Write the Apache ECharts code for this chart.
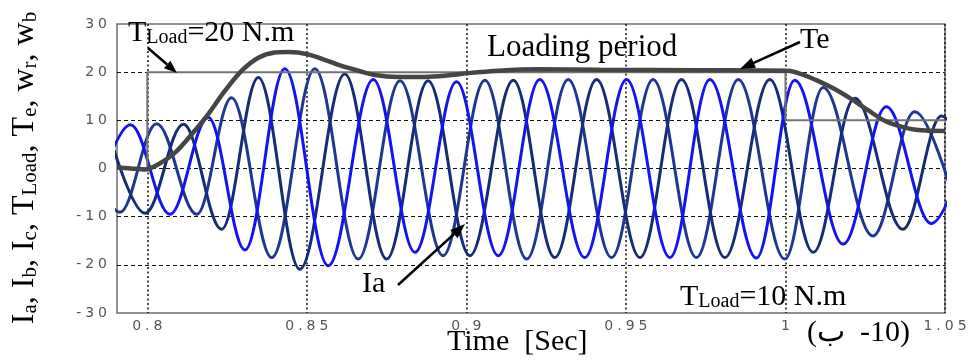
<!DOCTYPE html>
<html>
<head>
<meta charset="utf-8">
<script src="https://cdn.jsdelivr.net/npm/echarts@6/dist/echarts.min.js"></script>
<style>
html, body { margin: 0; padding: 0; background: #fff; }
#chart { width: 971px; height: 362px; }
</style>
</head>
<body>
<div id="chart"></div>
<script>
// peaks and troughs of the phase currents [time (s), value]
const ia = [
  [0.7822, -9.3], [0.7947, 9.1], [0.8071, -9.5], [0.8191, 10.6], [0.8306, -16.9],
  [0.8431, 20.7], [0.8567, -20.2], [0.8708, 18.5], [0.8839, -17.4], [0.8969, 18.0],
  [0.9100, -18.1], [0.9230, 18.5], [0.9371, -18.5], [0.9502, 18.5], [0.9638, -18.5],
  [0.9763, 18.5], [0.9909, -18.6], [1.0029, 18.3], [1.0181, -15.7], [1.0316, 12.8],
  [1.0457, -11.4], [1.0595, 10.0]
];
const ib = [
  [0.7790, 9.2], [0.7914, -9.1], [0.8029, 9.3], [0.8155, -9.5], [0.8264, 14.7],
  [0.8390, -18.5], [0.8525, 20.7], [0.8661, -18.8], [0.8792, 18.2], [0.8927, -18.1],
  [0.9058, 18.3], [0.9189, -18.8], [0.9319, 18.5], [0.9455, -18.5], [0.9585, 18.5],
  [0.9721, -18.5], [0.9852, 18.5], [0.9998, -18.8], [1.0118, 16.8], [1.0274, -14.0],
  [1.0405, 11.8], [1.0545, -10.5]
];
const ic = [
  [0.7871, 9.2], [0.7993, -9.3], [0.8113, 9.2], [0.8233, -12.6], [0.8348, 18.9],
  [0.8478, -20.9], [0.8619, 19.6], [0.8750, -18.8], [0.8880, 18.2], [0.9011, -18.1],
  [0.9147, 18.3], [0.9277, -18.5], [0.9408, 18.5], [0.9544, -18.5], [0.9674, 18.5],
  [0.9810, -18.5], [0.9951, 18.5], [1.0087, -17.4], [1.0217, 14.6], [1.0368, -12.6],
  [1.0489, 10.9], [1.0630, -10.0]
];
// electromagnetic torque
const te = [
  [0.7905, 0.2], [0.7949, 0.0], [0.7993, -0.2], [0.8035, 0.9], [0.8087, 3.3],
  [0.8139, 7.1], [0.8191, 11.3], [0.8243, 16.1], [0.8296, 20.3], [0.8348, 23.0],
  [0.8400, 24.1], [0.8442, 24.2], [0.8504, 23.7], [0.8567, 22.3], [0.8609, 21.3],
  [0.8661, 20.3], [0.8713, 19.4], [0.8786, 19.0], [0.8870, 19.0], [0.8954, 19.4],
  [0.9006, 19.8], [0.9100, 20.3], [0.9225, 20.6], [0.9418, 20.5], [0.9732, 20.4],
  [1.0007, 20.3], [1.0050, 19.6], [1.0102, 18.2], [1.0154, 16.5], [1.0207, 14.4],
  [1.0259, 12.1], [1.0311, 9.9], [1.0363, 8.7], [1.0415, 8.0], [1.05, 7.8]
];
// load torque steps
const tload = [[0.7905, 0], [0.8, 0], [0.8, 20], [1.0, 20], [1.0, 10], [1.05, 10]];

const xTicks = [0.8, 0.85, 0.9, 0.95, 1, 1.05];
const yTicks = [-30, -20, -10, 0, 10, 20, 30];

const serif = 'Liberation Serif, Times New Roman, serif';

// tick labels in the figure are drawn very wide, so space out the characters
function spaced(v) {
  return String(v).split('').map(c => '{c|' + c + '}').join('');
}
const tickRich = {
  c: { fontSize: 14, fontFamily: 'DejaVu Sans, sans-serif', color: '#555', padding: [0, 2] }
};

const subRich = {
  m: { fontSize: 30, fontFamily: serif, color: '#000', lineHeight: 30, verticalAlign: 'bottom' },
  s: { fontSize: 20, fontFamily: serif, color: '#000', lineHeight: 16, verticalAlign: 'bottom' }
};
const yRich = {
  m: { fontSize: 32, fontFamily: serif, color: '#000', lineHeight: 32, verticalAlign: 'bottom' },
  s: { fontSize: 21, fontFamily: serif, color: '#000', lineHeight: 17, verticalAlign: 'bottom' }
};

function label(x, y, text, rich, size) {
  const style = { text: text, fill: '#000', align: 'left', verticalAlign: 'middle' };
  if (rich) style.rich = rich;
  else style.font = size + 'px ' + serif;
  return { type: 'text', x: x, y: y, z: 100, style: style };
}

function arrow(x1, y1, x2, y2, len, w) {
  const a = Math.atan2(y2 - y1, x2 - x1), c = Math.cos(a), s = Math.sin(a);
  const bx = x2 - len * c, by = y2 - len * s;
  return [
    { type: 'line', z: 100, shape: { x1: x1, y1: y1, x2: bx, y2: by }, style: { stroke: '#000', lineWidth: 2.5 } },
    { type: 'polygon', z: 100, shape: { points: [[x2, y2], [bx - w / 2 * s, by + w / 2 * c], [bx + w / 2 * s, by - w / 2 * c]] }, style: { fill: '#000' } }
  ];
}

function current(name, data, color) {
  return {
    name: name, type: 'line', data: data, showSymbol: false, symbol: 'none',
    smooth: 0.36, smoothMonotone: 'x',
    lineStyle: { color: color, width: 3 }, z: 2
  };
}

const chart = echarts.init(document.getElementById('chart'));
chart.setOption({
  animation: false,
  backgroundColor: '#fff',
  grid: { left: 117, right: 26, top: 24, bottom: 49, show: true, borderColor: '#6e6e6e', borderWidth: 1.5 },
  xAxis: {
    type: 'value', min: 0.7905, max: 1.05,
    axisLine: { show: false },
    axisTick: { show: false, customValues: xTicks },
    axisLabel: { customValues: xTicks, margin: 6, formatter: v => spaced(v), rich: tickRich },
    splitLine: { show: true, lineStyle: { color: '#111', width: 1.5, type: [2, 2.5] } }
  },
  yAxis: {
    type: 'value', min: -30, max: 30, interval: 10,
    axisLine: { show: false },
    axisTick: { show: false },
    axisLabel: { margin: 8, formatter: v => spaced(v), rich: tickRich },
    splitLine: { show: true, showMinLine: false, showMaxLine: false, lineStyle: { color: '#111', width: 1, type: [4, 3] } }
  },
  series: [
    current('Ib', ib, '#1f3790'),
    current('Ic', ic, '#162c74'),
    current('Ia', ia, '#1414f0'),
    {
      name: 'TLoad', type: 'line', data: tload, showSymbol: false, symbol: 'none',
      lineStyle: { color: '#737373', width: 2 }, z: 3
    },
    {
      name: 'Te', type: 'line', data: te, showSymbol: false, symbol: 'none', smooth: 0.3,
      lineStyle: { color: '#454545', width: 4.5 }, z: 4
    }
  ],
  graphic: [
    {
      type: 'text', x: 25, y: 168, rotation: Math.PI / 2, z: 100,
      style: {
        text: '{m|I}{s|a}{m|, I}{s|b}{m|, I}{s|c}{m|, T}{s|Load}{m|, T}{s|e}{m|, w}{s|r}{m|, w}{s|b}',
        rich: yRich, align: 'center', verticalAlign: 'middle'
      }
    },
    label(128, 33, '{m|T}{s|Load}{m|=20 N.m}', subRich),
    label(680, 297, '{m|T}{s|Load}{m|=10 N.m}', subRich),
    label(487, 48, 'Loading period', null, 31),
    label(800, 40, 'Te', null, 30),
    label(362, 284, 'Ia', null, 30),
    label(447, 342, 'Time  [Sec]', null, 30),
    label(807, 333, '(ب', null, 30),
    label(860, 333, '-10)', null, 30)
  ].concat(
    arrow(148, 48, 177, 73, 13, 10),
    arrow(800, 42, 740, 69, 15, 11),
    arrow(398, 285, 465, 224, 15, 11)
  )
});
</script>
</body>
</html>
